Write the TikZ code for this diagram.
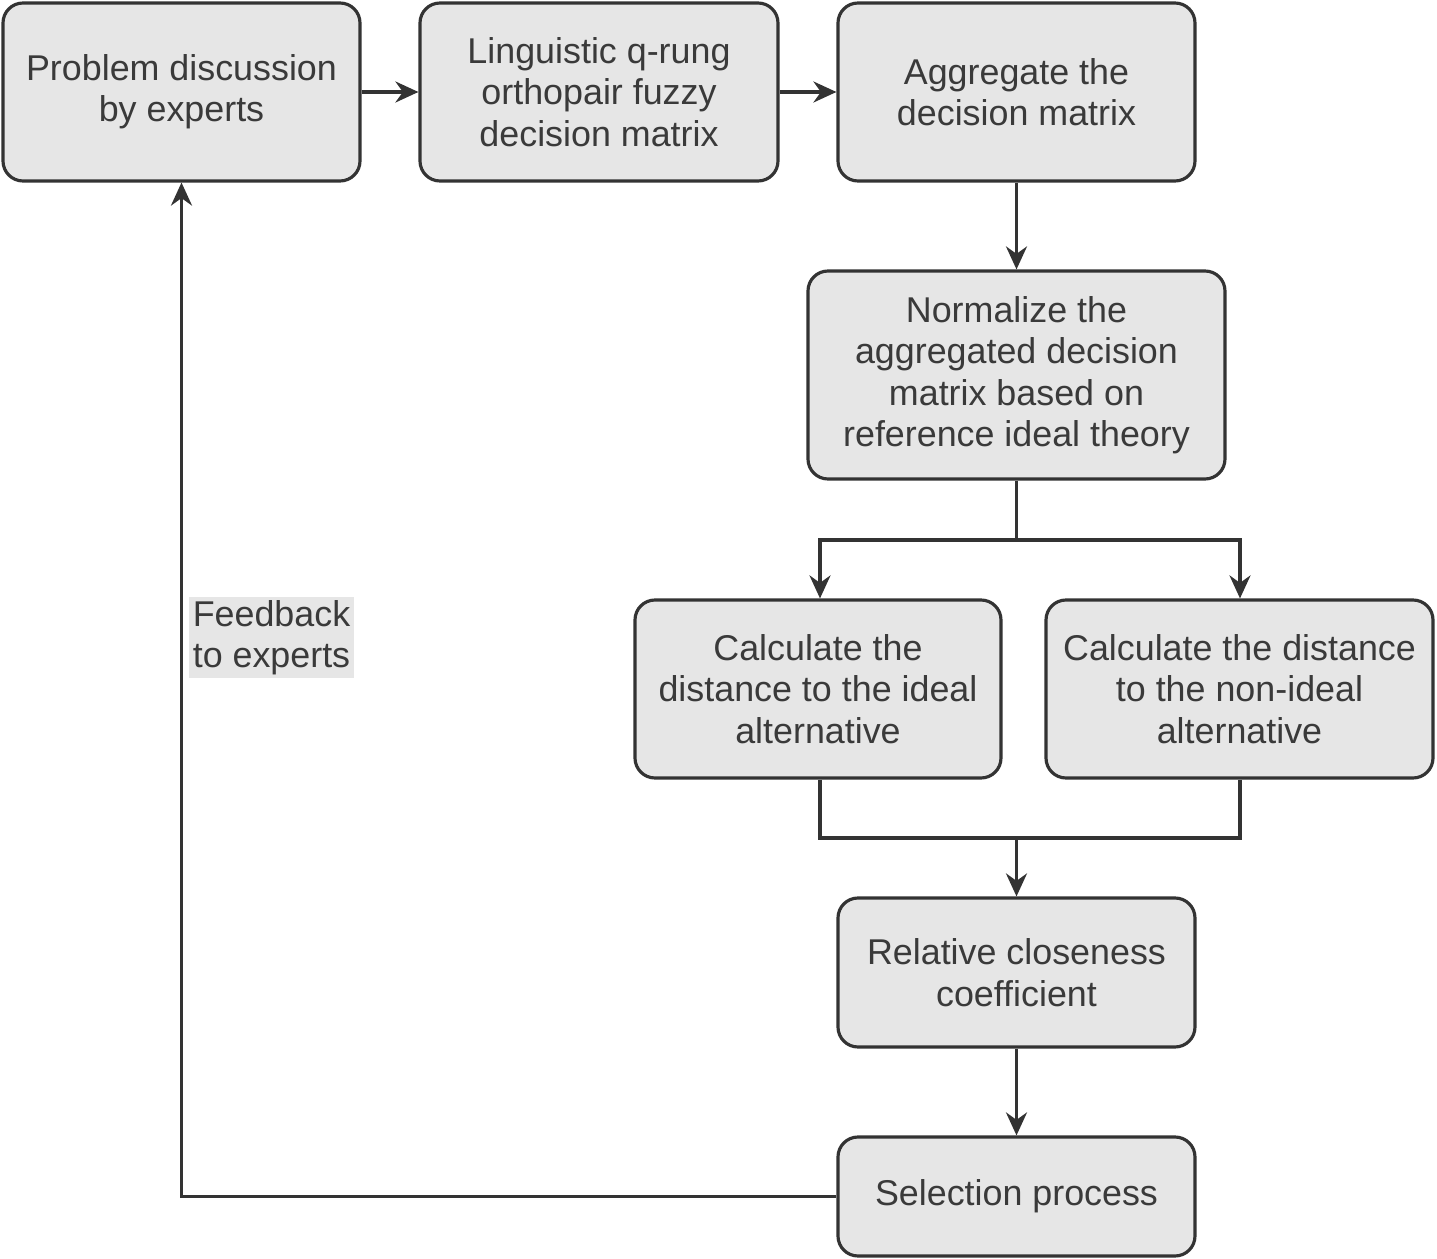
\documentclass[tikz,border=0pt]{standalone}
\usepackage{fontspec}
\setmainfont{Liberation Sans}
\usepackage{xcolor}
\usetikzlibrary{shapes,arrows,positioning,calc,arrows.meta}

\definecolor{boxfill}{HTML}{E6E6E6}
\definecolor{boxline}{HTML}{333333}
\definecolor{txtgray}{HTML}{3A3A3A}

\begin{document}
\begin{tikzpicture}[
    stepbox/.style={draw=boxline, line width=0.9pt, fill=boxfill, rounded corners=0.2cm,
        align=center, text=txtgray, inner sep=2pt,
        font=\fontsize{10.2pt}{11.8pt}\selectfont},
    flow/.style={draw=boxline, line width=0.9pt, -{Stealth[length=2.3mm,width=2.1mm]}},
    link/.style={draw=boxline, line width=0.9pt}
]
    \useasboundingbox (0,0) rectangle (14.37,-12.59);

    % Top row
    \node[stepbox, minimum width=3.57cm, minimum height=1.78cm] (discuss) at (1.815,-0.92) {Problem discussion\\by experts};
    \node[stepbox, minimum width=3.58cm, minimum height=1.78cm] (matrix) at (5.99,-0.92) {Linguistic q-rung\\orthopair fuzzy\\decision matrix};
    \node[stepbox, minimum width=3.57cm, minimum height=1.78cm] (aggr) at (10.165,-0.92) {Aggregate the\\decision matrix};

    % Normalization
    \node[stepbox, minimum width=4.17cm, minimum height=2.08cm] (norm) at (10.165,-3.75) {Normalize the\\aggregated decision\\matrix based on\\reference ideal theory};

    % Distances
    \node[stepbox, minimum width=3.66cm, minimum height=1.78cm] (ideal) at (8.18,-6.89) {Calculate the\\distance to the ideal\\alternative};
    \node[stepbox, minimum width=3.87cm, minimum height=1.78cm] (nonideal) at (12.395,-6.89) {Calculate the distance\\to the non-ideal\\alternative};

    % Closeness and selection
    \node[stepbox, minimum width=3.57cm, minimum height=1.49cm] (close) at (10.165,-9.725) {Relative closeness\\coefficient};
    \node[stepbox, minimum width=3.57cm, minimum height=1.19cm] (select) at (10.165,-11.965) {Selection process};

    % Feedback label
    \node[fill=boxfill, text=txtgray, align=left, inner sep=1pt,
        font=\fontsize{10.2pt}{11.8pt}\selectfont] (fb) at (2.715,-6.375) {Feedback\\to experts};

    % Helper points
    \coordinate (split) at (10.165,-5.40);
    \coordinate (merge) at (10.165,-8.38);
    \coordinate (back) at (1.815,-11.965);

    % Arrows
    \draw[flow] (discuss) -- (matrix);
    \draw[flow] (matrix) -- (aggr);
    \draw[flow] (aggr) -- (norm);
    \draw[link] (norm) -- (split);
    \draw[flow] (split) -| (ideal.north -| 8.2,0);
    \draw[flow] (split) -| (nonideal.north -| 12.4,0);
    \draw[link] (ideal.south -| 8.2,0) |- (merge);
    \draw[link] (nonideal.south -| 12.4,0) |- (merge);
    \draw[flow] (merge) -- (close);
    \draw[flow] (close) -- (select);
    \draw[flow] (select.west) -- (back) -- (discuss.south);
\end{tikzpicture}
\end{document}
